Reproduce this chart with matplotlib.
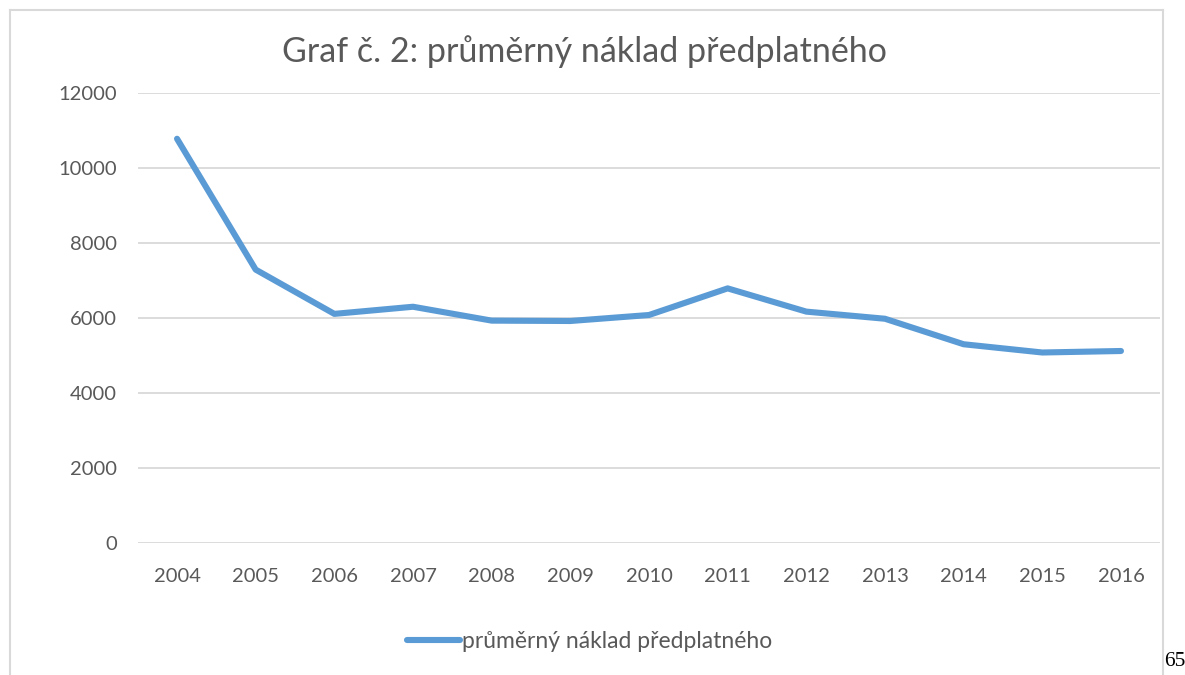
import matplotlib
matplotlib.use("Agg")
import matplotlib.pyplot as plt
from matplotlib.lines import Line2D

# data
years = ["2004", "2005", "2006", "2007", "2008", "2009", "2010",
         "2011", "2012", "2013", "2014", "2015", "2016"]
naklad = [10780, 7290, 6110, 6300, 5930, 5920, 6080,
          6790, 6170, 5980, 5300, 5080, 5120]
y_ticks = [0, 2000, 4000, 6000, 8000, 10000, 12000]

title = "Graf č. 2: průměrný náklad předplatného"
series_name = "průměrný náklad předplatného"

line_color = "#5B9BD5"
text_color = "#595959"
grid_color = "#D9D9D9"

plt.rcParams["font.family"] = ["Lato", "DejaVu Sans"]

fig = plt.figure(figsize=(11.85, 6.75), dpi=100)
W, H = 1185, 675

# plot area (pixel coords converted to figure fractions)
left, right, top, bottom = 137.7, 1160.3, 93, 543
ax = fig.add_axes([left / W, 1 - bottom / H, (right - left) / W, (bottom - top) / H])

x = list(range(len(years)))
ax.plot(x, naklad, color=line_color, linewidth=4.4, solid_capstyle="round",
        solid_joinstyle="round", zorder=3)

ax.set_xlim(-0.5, len(years) - 0.5)
ax.set_ylim(0, 12000)
ax.set_yticks(y_ticks)
ax.set_yticklabels([str(v) for v in y_ticks])
ax.set_xticks(x)
ax.set_xticklabels(years)
ax.tick_params(axis="both", length=0, labelsize=14.5, colors=text_color)
ax.tick_params(axis="y", pad=15)
ax.tick_params(axis="x", pad=18)
ax.grid(axis="y", color=grid_color, linewidth=1.3, zorder=0)
for s in ax.spines.values():
    s.set_visible(False)

fig.text(584 / W, 1 - 52 / H, title, ha="center", va="center",
         fontsize=24.5, color=text_color)

# legend
handle = Line2D([], [], color=line_color, linewidth=4.4, solid_capstyle="round")
fig.legend([handle], [series_name], loc="center", bbox_to_anchor=(590 / W, 1 - 642 / H),
           frameon=False, fontsize=16.5, labelcolor=text_color, handlelength=2.3,
           handletextpad=0.1)

# outer chart frame
fig.add_artist(Line2D([10 / W, 10 / W], [0, 1 - 10 / H], transform=fig.transFigure,
                      color=grid_color, linewidth=1.5))
fig.add_artist(Line2D([10 / W, 1163 / W], [1 - 10 / H, 1 - 10 / H], transform=fig.transFigure,
                      color=grid_color, linewidth=1.5))
fig.add_artist(Line2D([1163 / W, 1163 / W], [0, 1 - 10 / H], transform=fig.transFigure,
                      color=grid_color, linewidth=1.5))

# page number
fig.text(1164 / W, 1 - 662 / H, "65", ha="left", va="center",
         fontsize=15.5, family="Liberation Serif", color="black")

fig.savefig("out.png", dpi=100)
